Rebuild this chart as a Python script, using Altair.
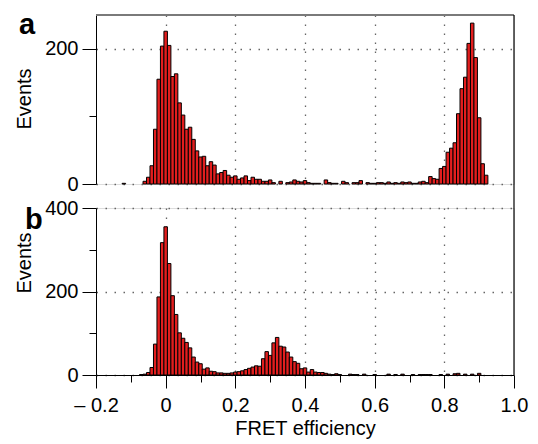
import altair as alt
import pandas as pd

# ---------------- data (bin centres, bin width 0.01) ----------------
a_bins = [-0.12, -0.06, -0.05, -0.04, -0.03, -0.02, -0.01, 0.00, 0.01, 0.02, 0.03, 0.04, 0.05,
          0.06, 0.07, 0.08, 0.09, 0.10, 0.11, 0.12, 0.13, 0.14, 0.15, 0.16, 0.17, 0.18, 0.19,
          0.20, 0.21, 0.22, 0.23, 0.24, 0.25, 0.26, 0.27, 0.28, 0.29, 0.30, 0.31, 0.33, 0.35,
          0.36, 0.37, 0.38, 0.39, 0.40, 0.41, 0.42, 0.43, 0.44, 0.46, 0.47, 0.48, 0.49, 0.51,
          0.52, 0.54, 0.55, 0.56, 0.58, 0.59, 0.60, 0.61, 0.62, 0.63, 0.64, 0.65, 0.66, 0.67,
          0.68, 0.69, 0.70, 0.71, 0.72, 0.73, 0.74, 0.75, 0.76, 0.77, 0.78, 0.79, 0.80, 0.81,
          0.82, 0.83, 0.84, 0.85, 0.86, 0.87, 0.88, 0.89, 0.90, 0.91, 0.92]
a_counts = [1, 4, 10, 27, 81, 155, 204, 226, 205, 159, 163, 120, 102,
            81, 84, 66, 49, 40, 41, 27, 33, 28, 15, 17, 20, 13, 10,
            12, 7, 9, 12, 5, 10, 7, 7, 4, 4, 6, 2, 4, 2,
            3, 6, 4, 3, 5, 2, 1, 1, 1, 6, 2, 1, 1, 4,
            2, 2, 2, 5, 2, 1, 1, 2, 2, 1, 3, 1, 2, 1,
            3, 2, 3, 1, 1, 3, 4, 2, 11, 8, 7, 23, 26, 47,
            53, 61, 104, 141, 158, 208, 238, 187, 98, 30, 13]

b_bins = [-0.07, -0.06, -0.05, -0.04, -0.03, -0.02, -0.01, 0.00, 0.01, 0.02, 0.03, 0.04, 0.05,
          0.06, 0.07, 0.08, 0.09, 0.10, 0.11, 0.12, 0.13, 0.14, 0.15, 0.16, 0.17, 0.18, 0.19,
          0.20, 0.21, 0.22, 0.23, 0.24, 0.25, 0.26, 0.27, 0.28, 0.29, 0.30, 0.31, 0.32, 0.33,
          0.34, 0.35, 0.36, 0.37, 0.38, 0.39, 0.40, 0.41, 0.42, 0.43, 0.44, 0.45, 0.46, 0.47,
          0.48, 0.49, 0.50, 0.53, 0.54, 0.55, 0.57, 0.60, 0.64, 0.66, 0.68, 0.71, 0.73, 0.74,
          0.75, 0.76, 0.79, 0.81, 0.83, 0.84, 0.86, 0.88, 0.90]
b_counts = [1, 2, 6, 18, 74, 187, 317, 355, 267, 190, 145, 101, 88,
            78, 65, 43, 31, 27, 14, 17, 9, 8, 5, 5, 4, 4, 5,
            7, 8, 10, 13, 16, 19, 22, 21, 39, 56, 47, 77, 90, 69,
            67, 55, 43, 32, 28, 15, 17, 7, 13, 7, 6, 6, 4, 2,
            1, 3, 1, 2, 1, 1, 2, 1, 2, 1, 2, 1, 1, 1,
            1, 1, 1, 2, 3, 4, 2, 2, 4]

x_ticks = [-0.2, -0.1, 0.0, 0.1, 0.2, 0.3, 0.4, 0.5, 0.6, 0.7, 0.8, 0.9, 1.0]
x_grid = [0.0, 0.2, 0.4, 0.6, 0.8]
a_yticks = [0, 100, 200]
b_yticks = [0, 100, 200, 300, 400]
a_ymax = 250
b_ymax = 400
bin_width = 0.01

x_title = "FRET efficiency"
y_title = "Events"
panel_a = "a"
panel_b = "b"

# ---------------- styles ----------------
RED = "#e31e1e"
FONT = "Liberation Sans"
W = 418
HA = 169
HB = 167
GAP = 24

def frame(bins, counts):
    return pd.DataFrame({
        "x0": [round(b - bin_width / 2, 4) for b in bins],
        "x1": [round(b + bin_width / 2, 4) for b in bins],
        "count": counts,
        "base": [0] * len(counts),
    })

df_a = frame(a_bins, a_counts)
df_b = frame(b_bins, b_counts)
one = pd.DataFrame({"k": [0]})

x_scale = alt.Scale(domain=[-0.2, 1.0], nice=False, zero=False)
grid_style = dict(gridDash=[1.5, 7.5], gridColor="#666666", gridWidth=1.3)

y_major = "datum.value % 200 === 0"
x_major = "round(datum.value * 10) % 2 === 0"

def y_axis(vals):
    return alt.Axis(
        values=vals, title=None, grid=True,
        gridOpacity={"condition": {"test": y_major, "value": 1}, "value": 0},
        tickSize={"condition": {"test": y_major, "value": 14}, "value": 7},
        tickColor="black", tickWidth=1, domainColor="black", domainWidth=1,
        labelExpr="datum.value % 200 === 0 ? datum.label : ''",
        labelFont=FONT, labelFontSize=20, labelColor="black", labelPadding=4,
        labelOverlap=False, labelFlush=False, **grid_style,
    )

bars_a = alt.Chart(df_a).mark_bar(fill=RED, stroke="black", strokeWidth=1).encode(
    x=alt.X("x0:Q", scale=x_scale,
            axis=alt.Axis(values=x_grid, grid=True, domain=False, ticks=False,
                          labels=False, title=None, **grid_style)),
    x2="x1:Q",
    y=alt.Y("count:Q", scale=alt.Scale(domain=[0, a_ymax], nice=False), axis=y_axis(a_yticks)),
    y2="base:Q",
)

top_border = alt.Chart(one).mark_rule(color="#7a7a7a", strokeWidth=2).encode(
    x=alt.value(0), x2=alt.value(W), y=alt.value(0))
right_a = alt.Chart(one).mark_rule(color="black", strokeWidth=1.2).encode(
    x=alt.value(W), y=alt.value(0), y2=alt.value(HA))
lab_a = alt.Chart(pd.DataFrame({"t": [panel_a]})).mark_text(
    font=FONT, fontSize=29, fontWeight="bold", align="left", baseline="alphabetic", color="black"
).encode(text="t:N", x=alt.value(-77), y=alt.value(19))
ev_a = alt.Chart(pd.DataFrame({"t": [y_title]})).mark_text(
    font=FONT, fontSize=20, angle=270, align="center", baseline="middle", color="black"
).encode(text="t:N", x=alt.value(-71), y=alt.value(84))

panel_top = alt.layer(bars_a, top_border, right_a, lab_a, ev_a).properties(width=W, height=HA)

bars_b = alt.Chart(df_b).mark_bar(fill=RED, stroke="black", strokeWidth=1).encode(
    x=alt.X("x0:Q", scale=x_scale,
            axis=alt.Axis(
                values=x_ticks, title=x_title, grid=True,
                gridOpacity={"condition": {"test": x_major + " && datum.value > -0.1 && datum.value < 0.9",
                                           "value": 1}, "value": 0},
                tickSize={"condition": {"test": x_major, "value": 13}, "value": 7},
                tickColor="black", tickWidth=1, domainColor="black", domainWidth=1,
                labelExpr=("round(datum.value * 10) % 2 === 0 ? (datum.value < -0.01 ? '\u2013 ' + "
                           "format(-datum.value, '.1f') : (abs(datum.value) < 0.01 ? '0' : "
                           "format(datum.value, '.1f'))) : ''"),
                labelFont=FONT, labelFontSize=20, labelColor="black", labelPadding=7,
                labelOverlap=False, labelFlush=False,
                titleFont=FONT, titleFontSize=20, titleFontWeight="normal", titleColor="black",
                titlePadding=3, **grid_style)),
    x2="x1:Q",
    y=alt.Y("count:Q", scale=alt.Scale(domain=[0, b_ymax], nice=False), axis=y_axis(b_yticks)),
    y2="base:Q",
)
right_b = alt.Chart(one).mark_rule(color="black", strokeWidth=1.2).encode(
    x=alt.value(W), y=alt.value(-GAP), y2=alt.value(HB))
lab_b = alt.Chart(pd.DataFrame({"t": [panel_b]})).mark_text(
    font=FONT, fontSize=29, fontWeight="bold", align="left", baseline="alphabetic", color="black"
).encode(text="t:N", x=alt.value(-71), y=alt.value(21))
ev_b = alt.Chart(pd.DataFrame({"t": [y_title]})).mark_text(
    font=FONT, fontSize=20, angle=270, align="center", baseline="middle", color="black"
).encode(text="t:N", x=alt.value(-71), y=alt.value(55))

panel_bot = alt.layer(bars_b, right_b, lab_b, ev_b).properties(width=W, height=HB)

chart = alt.vconcat(panel_top, panel_bot, spacing=GAP, bounds="flush").properties(
    padding={"left": 6, "top": 2, "right": 0, "bottom": 0}
).configure_view(stroke=None).configure(background="white")

chart.save("out.html", embed_options={"renderer": "svg", "actions": False})
